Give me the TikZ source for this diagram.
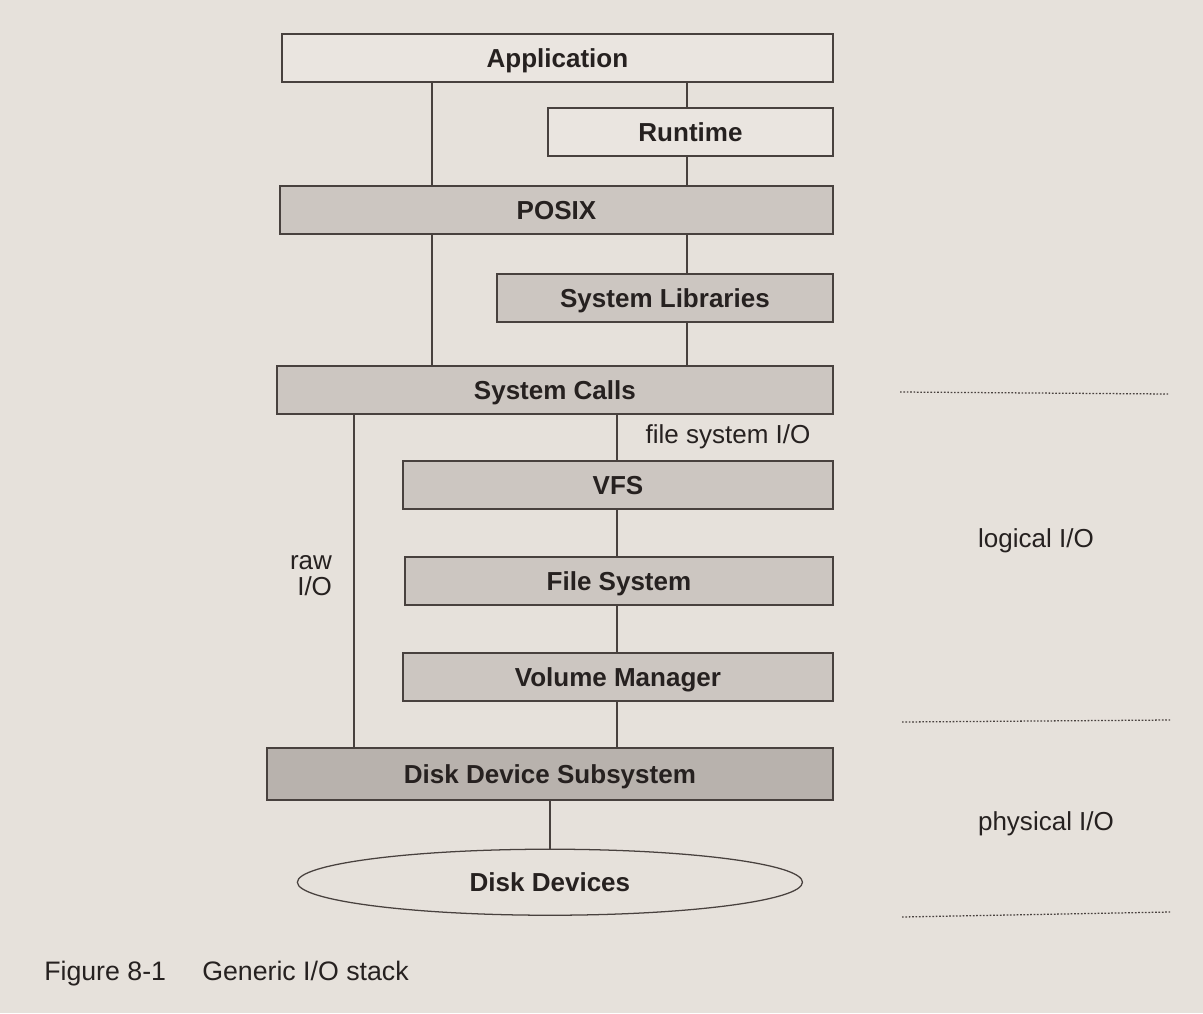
\documentclass[tikz,border=0pt]{standalone}
\usepackage{fontspec}
\setmainfont{Liberation Sans}
\usetikzlibrary{positioning,shapes.geometric}

\definecolor{paper}{RGB}{230,225,219}
\definecolor{paperbox}{RGB}{234,229,224}
\definecolor{layergray}{RGB}{204,198,193}
\definecolor{layerdark}{RGB}{184,178,173}
\definecolor{edgegray}{RGB}{72,65,62}
\definecolor{ink}{RGB}{38,33,32}

\newcommand{\stackfont}{\fontsize{18.5}{18.5}\selectfont}

\begin{document}
\begin{tikzpicture}[x=0.025cm,y=-0.025cm,
  layer/.style={rectangle,draw=edgegray,line width=1.1pt,fill=layergray,
    minimum height=1.2cm,inner sep=0pt,outer sep=0pt,text height=13.2pt,text depth=0pt,
    text=ink,font=\stackfont\bfseries},
  top layer/.style={layer,fill=paperbox},
  dev layer/.style={layer,fill=layerdark,minimum height=1.3cm},
  io label/.style={text=ink,font=\stackfont,inner sep=0pt},
  caption/.style={text=ink,font=\fontsize{19}{19}\selectfont,inner sep=0pt,anchor=base west},
  link/.style={draw=edgegray,line width=0.9pt},
  sep line/.style={draw=edgegray,line width=0.9pt,dash pattern=on 1.2pt off 1.2pt}]

  \fill[paper] (0,0) rectangle (1203,1013);
  \useasboundingbox (0,0) rectangle (1203,1013);

  % the stack, right edges lined up
  \node[top layer,minimum width=13.775cm,anchor=north east] (app) at (833,34) {Application};
  \node[top layer,minimum width=7.125cm,below left=0.65cm and 0cm of app.south east] (rt) {Runtime};
  \node[layer,minimum width=13.825cm,below left=0.75cm and 0cm of rt.south east] (posix) {POSIX};
  \node[layer,minimum width=8.4cm,below left=1cm and 0cm of posix.south east] (slib) {System Libraries};
  \node[layer,minimum width=13.9cm,below left=1.1cm and 0cm of slib.south east] (scall) {System Calls};
  \node[layer,minimum width=10.75cm,below left=1.175cm and 0cm of scall.south east] (vfs) {VFS};
  \node[layer,minimum width=10.7cm,below left=1.2cm and 0cm of vfs.south east] (fsys) {File System};
  \node[layer,minimum width=10.75cm,below left=1.2cm and 0cm of fsys.south east] (vman) {Volume Manager};
  \node[dev layer,minimum width=14.15cm,below left=1.175cm and 0cm of vman.south east] (dds) {Disk Device Subsystem};
  \node[ellipse,draw=edgegray,line width=0.9pt,minimum width=12.625cm,minimum height=1.65cm,
    inner sep=0pt,outer sep=0pt,text height=13.2pt,text depth=0pt,text=ink,
    font=\stackfont\bfseries,below=1.225cm of dds] (disks) {Disk Devices};

  % x positions of the vertical links
  \coordinate (lsplit) at (432,0);
  \coordinate (rsplit) at (687,0);
  \coordinate (rawx) at (354,0);
  \coordinate (fsx) at (617,0);

  \path[link]
    (app.south -| lsplit) edge (posix.north -| lsplit)
    (posix.south -| lsplit) edge (scall.north -| lsplit)
    (app.south -| rsplit) edge (rt.north -| rsplit)
    (rt.south -| rsplit) edge (posix.north -| rsplit)
    (posix.south -| rsplit) edge (slib.north -| rsplit)
    (slib.south -| rsplit) edge (scall.north -| rsplit)
    (scall.south -| rawx) edge (dds.north -| rawx)
    (scall.south -| fsx) edge (vfs.north -| fsx)
    (vfs.south -| fsx) edge (fsys.north -| fsx)
    (fsys.south -| fsx) edge (vman.north -| fsx)
    (vman.south -| fsx) edge (dds.north -| fsx)
    (dds.south) edge (disks.north);

  \node[io label] (fsio) at (728,437) {file system I/O};
  \node[io label,align=right] (rawio) at (311,576) {raw\\I/O};
  \node[io label] (logio) at (1036,541) {logical I/O};
  \node[io label] (physio) at (1046,824) {physical I/O};

  % dotted separators on the right
  \coordinate (sepa1) at (900,392);
  \coordinate (sepa2) at (1168,394);
  \coordinate (sepb1) at (902,722);
  \coordinate (sepb2) at (1170,720);
  \coordinate (sepc1) at (902,917);
  \coordinate (sepc2) at (1170,912);
  \draw[sep line] (sepa1) -- (sepa2);
  \draw[sep line] (sepb1) -- (sepb2);
  \draw[sep line] (sepc1) -- (sepc2);

  \node[caption] (fignum) at (44,980) {Figure 8-1};
  \node[caption] (figtitle) at (202,980) {Generic I/O stack};
\end{tikzpicture}
\end{document}
